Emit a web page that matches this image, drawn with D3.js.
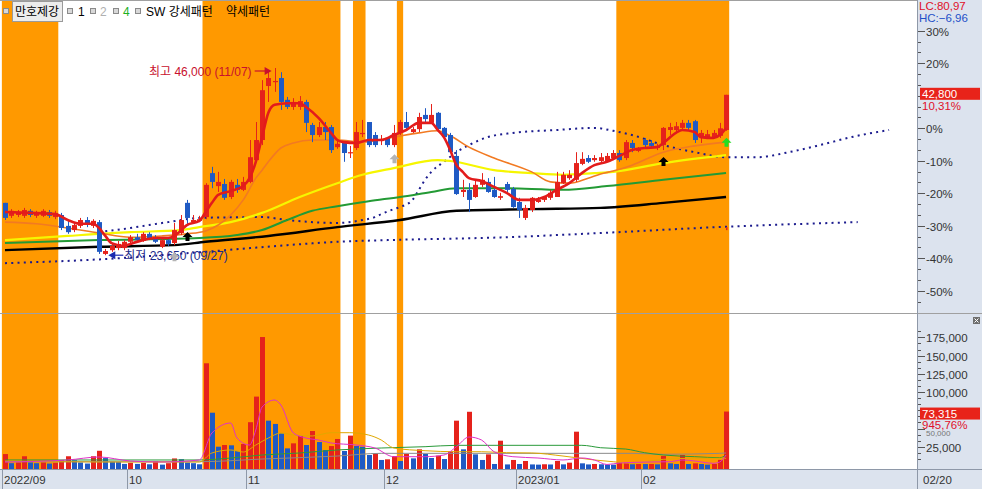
<!DOCTYPE html>
<html><head><meta charset="utf-8">
<script src="https://cdn.jsdelivr.net/npm/d3@7/dist/d3.min.js"></script>
<style>
html,body{margin:0;padding:0;background:#fff;overflow:hidden}
svg{display:block;font-family:"Liberation Sans","Noto Sans CJK KR",sans-serif}
</style></head><body>
<svg id="chart" width="982" height="489"></svg>
<script>
// ---------------- DATA ----------------
const stockName = "만호제강";
const dates = [
"2022-09-01","2022-09-02","2022-09-05","2022-09-06","2022-09-07","2022-09-08","2022-09-13","2022-09-14","2022-09-15","2022-09-16",
"2022-09-19","2022-09-20","2022-09-21","2022-09-22","2022-09-23","2022-09-26","2022-09-27","2022-09-28","2022-09-29","2022-09-30",
"2022-10-04","2022-10-05","2022-10-06","2022-10-07","2022-10-11","2022-10-12","2022-10-13","2022-10-14","2022-10-17","2022-10-18",
"2022-10-19","2022-10-20","2022-10-21","2022-10-24","2022-10-25","2022-10-26","2022-10-27","2022-10-28","2022-10-31","2022-11-01",
"2022-11-02","2022-11-03","2022-11-04","2022-11-07","2022-11-08","2022-11-09","2022-11-10","2022-11-11","2022-11-14","2022-11-15",
"2022-11-16","2022-11-17","2022-11-18","2022-11-21","2022-11-22","2022-11-23","2022-11-24","2022-11-25","2022-11-28","2022-11-29",
"2022-11-30","2022-12-01","2022-12-02","2022-12-05","2022-12-06","2022-12-07","2022-12-08","2022-12-09","2022-12-12","2022-12-13",
"2022-12-14","2022-12-15","2022-12-16","2022-12-19","2022-12-20","2022-12-21","2022-12-22","2022-12-23","2022-12-26","2022-12-27",
"2022-12-28","2022-12-29","2023-01-02","2023-01-03","2023-01-04","2023-01-05","2023-01-06","2023-01-09","2023-01-10","2023-01-11",
"2023-01-12","2023-01-13","2023-01-16","2023-01-17","2023-01-18","2023-01-19","2023-01-20","2023-01-25","2023-01-26","2023-01-27",
"2023-01-30","2023-01-31","2023-02-01","2023-02-02","2023-02-03","2023-02-06","2023-02-07","2023-02-08","2023-02-09","2023-02-10",
"2023-02-13","2023-02-14","2023-02-15","2023-02-16","2023-02-17","2023-02-20"];

const open = [29900,28350,28450,28350,28950,28350,28350,28800,28200,28450,
27150,26650,27150,27850,27150,27600,23800,24250,24500,24500,
25250,25800,25350,26200,25800,24650,25450,25100,26300,29900,
27600,27750,28200,33450,31900,32150,30600,32050,31450,32400,
35000,37400,43850,44350,44800,42200,41350,41350,41950,39200,
38000,38950,38950,36550,37050,35850,36450,38100,39550,38000,
37300,37650,36800,38250,39550,38350,38700,40400,39450,40650,
38850,38000,35500,31200,31450,30600,32050,32400,31450,30500,
32150,31550,30000,28100,29050,30000,30250,30500,30600,32250,
32850,32650,34550,35250,35000,34900,34900,35250,35850,35250,
37050,36100,37400,37050,36450,36800,38600,38600,38850,39450,
39650,37750,37750,37750,37900,38600];
const high = [29900,29150,29050,29300,29150,28950,29150,29050,28950,28700,
27850,27600,28100,28200,27950,27850,24400,25100,25350,25450,
26050,26200,26400,26400,26050,25700,25700,27500,28450,30250,
28450,28350,32250,34200,33600,32750,32650,32750,33000,37400,
39550,44550,45750,46000,45500,42550,42400,42650,42200,39450,
39550,39550,39200,37300,37150,36700,39550,39800,39550,38350,
38000,37750,39200,39800,40750,38950,40650,41200,41700,40750,
38950,38250,36200,32650,32250,32650,33450,32850,33000,31100,
32400,31800,30500,29650,30600,30600,30700,31450,33600,33600,
33800,35950,35950,35600,35600,35850,35850,36200,36200,37400,
37400,36550,37650,37400,36950,38950,39450,39550,39800,39800,
39800,38600,38600,38600,39450,42800];
const low = [27850,28100,28200,28100,28200,28100,28200,28100,27950,26650,
26200,26400,26900,27000,26900,23800,23650,24050,24250,24250,
25100,25250,25250,25450,25100,24500,24750,24850,26050,27250,
27500,27600,27950,31650,31200,30250,30350,31100,31300,32250,
34900,36800,41950,43150,41000,41100,41000,41000,38350,37150,
37750,37400,35850,36350,34800,35250,36200,37750,36550,36550,
36800,36550,36550,38000,38600,38250,38350,39550,39450,38350,
37650,35850,30850,30600,28800,30500,31800,31100,30500,30250,
31200,29300,28100,27850,28800,29900,30000,30250,30600,32150,
32650,32400,34400,34650,34800,34650,34800,35000,34800,35000,
35950,35950,36450,36450,36200,36200,38000,38250,38600,38600,
37050,37050,37650,37650,37650,38500];
const close = [28100,28950,28800,29050,28450,28700,28950,28350,28700,26900,
26400,27250,27850,27400,27750,24050,24150,24750,25000,25250,
25800,25450,26200,25700,25250,25450,25000,26650,27850,28100,
27850,27950,32050,32400,32400,30500,32400,31450,32400,35350,
37400,43350,44800,44450,41950,41350,41950,42050,39450,38000,
38950,38350,36200,36950,35850,35950,38350,38250,36800,36800,
37500,36800,38250,39550,38850,38700,40150,39900,40400,38700,
37750,35950,30950,31450,30250,32050,32650,31200,30600,30700,
31450,29400,29050,29300,30500,30250,30600,31100,32400,33250,
33250,34650,35150,34800,35250,35350,35500,35850,35000,37150,
36450,36450,36800,36700,36700,38850,38950,39050,39450,38850,
37400,38250,38100,38250,38800,42800];
const volume = [15000,2500,3500,12000,3500,2500,3500,2000,3000,6500,
12000,6500,3500,2000,12000,19500,9500,4500,4000,1500,
3000,1500,3000,1000,5500,500,2500,9000,8000,3500,
2500,1000,139500,71700,25100,27400,27000,19200,28800,58700,
93800,175500,60800,56300,43400,22800,29700,39800,27400,46600,
31500,20500,26000,35700,19200,40300,26000,25000,13700,15100,
6900,7800,12300,5500,15100,9100,21500,15100,9600,12800,
8200,18300,60800,21500,73000,14600,6900,14600,1400,33300,
800,6900,1400,5500,800,500,1000,700,5500,900,
3200,45700,2300,800,1400,1000,600,500,3200,3300,
1000,1400,1300,1400,900,12300,2300,1400,13700,1400,
2300,1400,500,1400,7010,73315];
const volumeChangePct = 945.76;   // as printed on the volume axis

// "SW 강세패턴" signal periods (candle index ranges)
const strongRanges = [[0,8],[32,53],[56,57],[63,63],[98,115]];

// moving averages: [candle index, price]
const ma1 = [[0,28800],[4,28700],[8,28550],[10,27850],[12,27400],[14,27400],[15,26900],[16,25950],[17,25100],[19,24750],[20,25000],[22,25450],[24,25700],[26,25700],[27,25950],[28,26550],[29,27250],[31,27750],[32,28800],[33,29900],[34,30850],[36,31300],[38,31900],[39,32850],[40,34800],[41,37750],[42,40650],[43,41600],[45,41800],[47,41800],[48,41350],[50,40050],[52,38250],[53,37400],[54,37150],[56,37050],[58,37400],[60,37400],[62,38000],[64,38600],[66,39450],[68,39450],[69,38600],[70,37750],[71,36200],[72,34400],[73,33600],[74,32850],[76,32500],[78,31800],[80,31100],[82,30250],[84,30250],[86,30600],[88,31450],[90,32250],[92,33450],[94,34400],[96,34800],[98,35500],[100,36200],[102,36450],[104,36550],[105,37050],[107,38250],[108,38600],[110,38350],[111,37750],[113,37650],[115,38800]];
const ma2 = [[0,27600],[5,27400],[10,26900],[15,26300],[20,25800],[25,25950],[29,26200],[32,26550],[34,27250],[36,28450],[38,30250],[40,32850],[41,33800],[42,34800],[44,36450],[46,37050],[49,37400],[53,37400],[57,37150],[62,37750],[66,38250],[69,38500],[71,37900],[74,36550],[78,35250],[84,33600],[87,32400],[90,32250],[93,32850],[95,33350],[97,33700],[100,34400],[105,35950],[110,36700],[115,37150]];
const ma4 = [[0,25450],[10,25950],[20,26400],[28,26650],[31,27000],[36,27600],[41,28700],[47,30600],[53,32250],[57,33250],[62,34050],[69,35000],[71,34900],[78,33800],[84,33450],[89,33250],[94,33450],[97,33600],[105,34650],[115,35600]];
const ma5 = [[0,25100],[15,25450],[31,25700],[37,26050],[41,26650],[45,27850],[49,28950],[53,29500],[58,30100],[63,30600],[68,31200],[72,31650],[79,31650],[89,31450],[96,31900],[105,32650],[115,33450]];
const ma6 = [[0,24250],[15,24650],[27,24850],[32,25250],[42,25950],[53,27000],[63,27850],[72,28950],[84,29150],[95,29300],[105,29900],[115,30600]];
// leading spans (dotted), projected 26 sessions forward
const spanA = [[15,26400],[20,26900],[26,27600],[31,28100],[41,28200],[45,27850],[53,27500],[57,27850],[59,28200],[60,28550],[62,29150],[63,29400],[65,30250],[66,31450],[67,32650],[68,33600],[70,34800],[72,35950],[74,36800],[77,37750],[81,38250],[88,38600],[94,38850],[97,38500],[100,38000],[105,36800],[110,35950],[115,35350],[120,35350],[125,35950],[130,36800],[135,37750],[141,38600]];
const spanB = [[0,22700],[15,23150],[31,24000],[45,24850],[53,25250],[61,25450],[80,25800],[95,26300],[115,27050],[136,27600]];
// volume averages: [candle index, shares]
const vma1 = [[0,4100],[10,6900],[15,11000],[20,5500],[25,4100],[31,6900],[33,43900],[36,57600],[37,37000],[39,27400],[40,48000],[41,79500],[43,89100],[44,82300],[46,43900],[48,37000],[50,34300],[52,30200],[56,27400],[59,23300],[62,11400],[67,11400],[70,13700],[72,25100],[74,38400],[76,34300],[78,18200],[81,11400],[85,9600],[89,6900],[92,9600],[94,6900],[96,700],[98,2700],[103,4100],[106,4500],[108,6900],[110,5500],[113,2300],[114,4100],[115,13700]];
const vma2 = [[0,5500],[15,4100],[31,4100],[33,16500],[36,20600],[38,17800],[40,27400],[42,37000],[44,43900],[46,41100],[49,39800],[52,44300],[55,44300],[58,41100],[60,34300],[62,23300],[67,19600],[72,18200],[76,18200],[80,16900],[84,16500],[89,12300],[94,6900],[97,4500],[100,2300],[105,7800],[110,9200],[115,9200]];
const vma3 = [[0,6900],[31,6900],[36,9600],[41,13700],[47,16500],[53,20600],[60,23300],[67,25100],[72,27000],[92,27000],[95,23700],[99,21900],[102,16900],[105,13700],[110,11400],[114,10000],[115,13700]];
const vma4 = [[0,4500],[31,4500],[41,8200],[53,12300],[60,16000],[100,16000],[105,14700],[114,16000],[115,16500]];

// signal arrows: [candle index, type]
const signals = [[27,'gray'],[29,'black'],[62,'gray'],[105,'black'],[115,'green']];

const pctTicks = [30,20,10,0,-10,-20,-30,-40,-50];
const volTicks = [25000,50000,75000,100000,125000,150000,175000];

// ---------------- DRAW ----------------
const svg = d3.select('#chart');
const N = close.length;
const step = 6.27;
const PR = 917;
const x = d3.scaleLinear().domain([0, N-1]).range([5, 5 + step*(N-1)]);
const yP = d3.scaleLinear().domain([23650, 46000]).range([255.2, 68]);
const yV = d3.scaleLinear().domain([0, 175000]).range([465, 337.4]);
const RED='#e5221b', BLUE='#1f5ac4', ORANGE='#ff9900', AXBG='#dce3ee', AXLINE='#8e98a8';
const base = close[N-2];
const yPct = p => yP(base*(1+p/100));

svg.append('rect').attr('width',982).attr('height',489).attr('fill','#fff');

strongRanges.forEach(([a,b])=>{
  const x0=Math.max(0,x(a)-step/2), x1=x(b)+step/2;
  svg.append('rect').attr('x',x0).attr('y',0).attr('width',x1-x0).attr('height',469).attr('fill',ORANGE);
});

const defs = svg.append('defs');
defs.append('clipPath').attr('id','cp').append('rect').attr('x',0).attr('y',0).attr('width',PR).attr('height',313);
defs.append('clipPath').attr('id','cv').append('rect').attr('x',0).attr('y',314).attr('width',PR).attr('height',155);
const gP = svg.append('g').attr('clip-path','url(#cp)');
const gV = svg.append('g').attr('clip-path','url(#cv)');

const hiI = d3.maxIndex(high), loI = d3.minIndex(low);
const fmt = d3.format(',');
const md = s => s.slice(5,7)+'/'+s.slice(8,10);
{
  const cx = x(loI), cy = yP(low[loI]);
  gP.append('path').attr('d',`M${cx+3},${cy} l7,-4 v8 z`).attr('fill','#1a2ab0');
  gP.append('line').attr('x1',cx+9).attr('x2',cx+18).attr('y1',cy).attr('y2',cy).attr('stroke','#1a2ab0').attr('stroke-width',1.2);
  gP.append('text').attr('x',cx+19).attr('y',cy+4.5).attr('font-size',12).attr('fill','#1c2a8a')
    .text(`최저 ${fmt(low[loI])} (${md(dates[loI])})`);
}

const lineP = d3.line().x(d=>x(d[0])).y(d=>yP(d[1])).curve(d3.curveMonotoneX);
[spanA, spanB].forEach(s=>{
  gP.append('path').attr('d',lineP(s)).attr('fill','none').attr('stroke','#1b1b8e')
    .attr('stroke-width',2).attr('stroke-dasharray','2,4.27');
});

[[ma6,'#000000',2.4],[ma5,'#239a35',2],[ma4,'#f6f600',2.2],[ma2,'#f27a22',1.6]].forEach(([d,c,w])=>{
  gP.append('path').attr('d',lineP(d)).attr('fill','none').attr('stroke',c).attr('stroke-width',w);
});

const cG = gP.append('g');
for (let i=0;i<N;i++){
  const up = close[i] > open[i] || (close[i]===open[i] && (i===0 || close[i]>=close[i-1]));
  const col = up ? RED : BLUE;
  const cx = Math.round(x(i));
  cG.append('line').attr('x1',cx+0.5).attr('x2',cx+0.5).attr('y1',yP(high[i])).attr('y2',yP(low[i])).attr('stroke',col).attr('stroke-width',1);
  const y0 = yP(Math.max(open[i],close[i])), y1 = yP(Math.min(open[i],close[i]));
  cG.append('rect').attr('x',cx-2).attr('y',y0).attr('width',5).attr('height',Math.max(1.2,y1-y0)).attr('fill',col);
}
gP.append('path').attr('d',lineP(ma1)).attr('fill','none').attr('stroke','#e31b1b').attr('stroke-width',2.6);

const sigCol = {gray:'#b4b4b4', black:'#000', green:'#22dd22'};
signals.forEach(([i,t])=>{
  const cx = Math.round(x(i))+0.5, ty = yP(low[i]) + 7;
  gP.append('path').attr('d',`M${cx},${ty} l5,5 h-3 v4 h-4 v-4 h-3 z`).attr('fill',sigCol[t]);
});
gP.append('rect').attr('x',Math.round(x(N-1))).attr('y',yP(27000)).attr('width',1.5).attr('height',3).attr('fill',RED);

{
  const cx = x(hiI), cy = yP(high[hiI]) + 3;
  gP.append('text').attr('x',cx-23).attr('y',cy+4.5).attr('text-anchor','end').attr('font-size',12).attr('fill','#c8102e')
    .text(`최고 ${fmt(high[hiI])} (${md(dates[hiI])})`);
  gP.append('line').attr('x1',cx-20).attr('x2',cx-8).attr('y1',cy).attr('y2',cy).attr('stroke','#c8102e').attr('stroke-width',1.2);
  gP.append('path').attr('d',`M${cx-3},${cy} l-7,-4 v8 z`).attr('fill','#c8102e');
}

for (let i=0;i<N;i++){
  const up = i===0 || volume[i] >= volume[i-1];
  const cx = Math.round(x(i));
  const yt = yV(volume[i]);
  gV.append('rect').attr('x',cx-2).attr('y',yt).attr('width',5).attr('height',469-yt).attr('fill', up?RED:BLUE);
}
const lineV = d3.line().x(d=>x(d[0])).y(d=>yV(d[1])).curve(d3.curveMonotoneX);
[[vma4,'#8a8a8a'],[vma3,'#2a9a3a'],[vma2,'#e0a800'],[vma1,'#e030c8']].forEach(([d,c])=>{
  gV.append('path').attr('d',lineV(d)).attr('fill','none').attr('stroke',c).attr('stroke-width',1);
});

// ---------------- AXES / FRAME ----------------
svg.append('rect').attr('x',PR+1).attr('y',0).attr('width',982-PR-1).attr('height',489).attr('fill',AXBG);
svg.append('rect').attr('x',0).attr('y',470).attr('width',PR+1).attr('height',19).attr('fill',AXBG);
svg.append('line').attr('x1',0).attr('x2',982).attr('y1',313.5).attr('y2',313.5).attr('stroke','#a0a0a0');
svg.append('line').attr('x1',0).attr('x2',982).attr('y1',469.5).attr('y2',469.5).attr('stroke',AXLINE);
svg.append('line').attr('x1',PR+0.5).attr('x2',PR+0.5).attr('y1',0).attr('y2',489).attr('stroke',AXLINE);
svg.append('line').attr('x1',0).attr('x2',PR).attr('y1',0.5).attr('y2',0.5).attr('stroke','#a0a0a0');

const ax = svg.append('g').attr('font-size',11.5).attr('fill','#333');
const lastY = yP(close[N-1]), lastV = yV(volume[N-1]);
for (let k=-20;k<=12;k++){
  const yy = yPct(k*10/3);
  if (yy<2 || yy>311) continue;
  ax.append('line').attr('x1',PR+1).attr('x2',PR+4).attr('y1',Math.round(yy)+0.5).attr('y2',Math.round(yy)+0.5).attr('stroke','#555');
}
pctTicks.forEach(p=>{
  const yy = Math.round(yPct(p))+0.5;
  ax.append('line').attr('x1',PR+1).attr('x2',PR+8).attr('y1',yy).attr('y2',yy).attr('stroke','#555');
  if (Math.abs(yy-lastY) > 14) ax.append('text').attr('x',PR+9).attr('y',yy+4).text(p+'%');
});
for (let k=1;k<=22;k++){
  const yy = yV(k*25000/3);
  if (yy<318) continue;
  ax.append('line').attr('x1',PR+1).attr('x2',PR+4).attr('y1',Math.round(yy)+0.5).attr('y2',Math.round(yy)+0.5).attr('stroke','#555');
}
volTicks.forEach(v=>{
  const yy = Math.round(yV(v))+0.5;
  ax.append('line').attr('x1',PR+1).attr('x2',PR+8).attr('y1',yy).attr('y2',yy).attr('stroke','#555');
  if (Math.abs(yy-lastV) < 7) return;            // hidden under the value box
  const t = ax.append('text').attr('x',PR+9).attr('y',yy+4).text(fmt(v));
  if (Math.abs(yy-lastV-17) < 8) t.attr('y',yy+6.5).attr('font-size',8).attr('fill','#777');
});
svg.append('rect').attr('x',973).attr('y',317).attr('width',7).attr('height',7).attr('fill','#6e6e6e');
svg.append('path').attr('d','M974.5,318.5 l4,4 M978.5,318.5 l-4,4').attr('stroke','#fff').attr('stroke-width',1);

dates.forEach((d,i)=>{
  if (i>0 && d.slice(5,7)===dates[i-1].slice(5,7)) return;
  const xx = Math.round(x(i)-step/2)+0.5;
  svg.append('line').attr('x1',xx).attr('x2',xx).attr('y1',470).attr('y2',489).attr('stroke',AXLINE);
  const lab = (i===0 || d.slice(0,4)!==dates[i-1].slice(0,4)) ? d.slice(0,4)+'/'+d.slice(5,7) : d.slice(5,7);
  ax.append('text').attr('x',Math.max(2,xx+1.5)).attr('y',484).text(lab);
});
ax.append('text').attr('x',PR+6).attr('y',484).text(md(dates[N-1]));

const dec = v => d3.format('.2f')(v).replace('.',',');
{
  svg.append('rect').attr('x',PR+3).attr('y',lastY-7).attr('width',60).attr('height',12).attr('fill','#e8231a');
  svg.append('text').attr('x',PR+5).attr('y',lastY+3.5).attr('font-size',11.5).attr('fill','#fff').text(fmt(close[N-1]));
  svg.append('text').attr('x',PR+5).attr('y',lastY+15).attr('font-size',11.5).attr('fill','#e0102a').text(dec((close[N-1]/close[N-2]-1)*100)+'%');
  svg.append('rect').attr('x',PR+3).attr('y',lastV-4).attr('width',60).attr('height',12).attr('fill','#e8231a');
  svg.append('text').attr('x',PR+5).attr('y',lastV+6.5).attr('font-size',11.5).attr('fill','#fff').text(fmt(volume[N-1]));
  svg.append('text').attr('x',PR+5).attr('y',lastV+17).attr('font-size',11.5).attr('fill','#e0102a').text(dec(volumeChangePct)+'%');
}
svg.append('rect').attr('x',PR+1).attr('y',0).attr('width',64).attr('height',25).attr('fill',AXBG);
svg.append('text').attr('x',PR+2).attr('y',10).attr('font-size',11.5).attr('fill','#e0102a')
  .text('LC:'+dec((close[N-1]/low[loI]-1)*100));
svg.append('text').attr('x',PR+2).attr('y',22).attr('font-size',11.5).attr('fill','#1e50c8')
  .text('HC:'+dec((close[N-1]/high[hiI]-1)*100));

const lg = svg.append('g').attr('font-size',12);
const sq = (xx)=>{ lg.append('rect').attr('x',xx+0.5).attr('y',8.5).attr('width',5).attr('height',5).attr('fill','#d8d8d8').attr('stroke','#8a8a8a'); };
sq(3);
lg.append('rect').attr('x',12.5).attr('y',1.5).attr('width',50).attr('height',20).attr('fill','#ececec').attr('stroke','#9a9a9a');
lg.append('text').attr('x',15).attr('y',16).attr('fill','#000').text(stockName);
sq(67); lg.append('text').attr('x',78).attr('y',16).attr('fill','#000').text('1');
sq(90); lg.append('text').attr('x',100).attr('y',16).attr('fill','#b0b0b0').text('2');
sq(113); lg.append('text').attr('x',123).attr('y',16).attr('fill','#1fb01f').text('4');
sq(135); lg.append('text').attr('x',146).attr('y',16).attr('fill','#000').text('SW 강세패턴');
lg.append('text').attr('x',226).attr('y',16).attr('fill','#000').text('약세패턴');
</script>
</body></html>
